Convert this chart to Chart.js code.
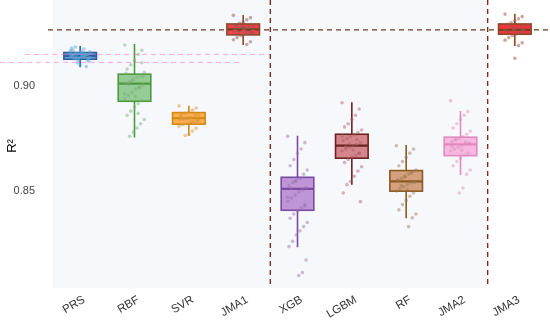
<!DOCTYPE html>
<html><head><meta charset="utf-8">
<script src="https://cdn.jsdelivr.net/npm/chart.js@4/dist/chart.umd.min.js"></script>
<style>html,body{margin:0;padding:0;background:#fff}#wrap{width:550px;height:320px}</style>
</head><body><div id="wrap"><canvas id="c" width="550" height="320"></canvas></div>
<script>
const categories = ['PRS','RBF','SVR','JMA1','XGB','LGBM','RF','JMA2','JMA3'];
const yTicks = [0.85, 0.90];
const q1      = [0.9127,0.8927,0.8818,0.9243,0.8408,0.8656,0.8499,0.8668,0.9246];
const medians = [0.9143,0.9011,0.8846,0.9271,0.8510,0.8716,0.8546,0.8722,0.9267];
const q3      = [0.9159,0.9056,0.8873,0.9295,0.8565,0.8770,0.8597,0.8756,0.9295];
const whiskLo = [0.9089,0.8754,0.8762,0.9195,0.8232,0.8529,0.8370,0.8576,0.9190];
const whiskHi = [0.9190,0.9199,0.8906,0.9338,0.8763,0.8922,0.8719,0.8881,0.9343];
const pinkRefLines = [0.9150, 0.9112];
const ptsPRS = [0.9143,0.9150,0.9138,0.9160,0.9128,0.9170,0.9135,0.9147,0.9155,0.9120,0.9185,0.9140,0.9131,0.9152,0.9165,0.9110,0.9145,0.9158,0.9125,0.9176,0.9100,0.9137,0.9149,0.9162,0.9092,0.9141,0.9133,0.9156,0.9180,0.9118,0.9146,0.9139,0.9153,0.9129,0.9168];
const ptsRBF = [0.9195,0.9170,0.9150,0.9120,0.9100,0.9080,0.9065,0.9050,0.9040,0.9030,0.9020,0.9012,0.9005,0.8995,0.8985,0.8970,0.8955,0.8940,0.8930,0.8915,0.8900,0.8880,0.8860,0.8840,0.8820,0.8800,0.8780,0.8760,0.9060,0.9045,0.8990,0.8950,0.9025,0.9008,0.8962,0.9110,0.8870];
const ptsSVR = [0.8905,0.8895,0.8885,0.8878,0.8870,0.8865,0.8860,0.8855,0.8850,0.8847,0.8844,0.8840,0.8835,0.8830,0.8825,0.8820,0.8815,0.8808,0.8798,0.8785,0.8770,0.8764,0.8852,0.8838,0.8868,0.8828,0.8848,0.8842,0.8857,0.8833];
const ptsJMA1 = [0.9336,0.9325,0.9315,0.9305,0.9298,0.9290,0.9285,0.9280,0.9275,0.9272,0.9268,0.9263,0.9258,0.9252,0.9246,0.9240,0.9230,0.9220,0.9210,0.9197,0.9278,0.9260,0.9288,0.9250,0.9270,0.9265,0.9282];
const ptsXGB = [0.8760,0.8730,0.8700,0.8680,0.8650,0.8620,0.8600,0.8580,0.8560,0.8550,0.8540,0.8525,0.8515,0.8505,0.8495,0.8480,0.8465,0.8450,0.8435,0.8420,0.8405,0.8390,0.8370,0.8350,0.8330,0.8310,0.8290,0.8260,0.8235,0.8171,0.8111,0.8097,0.8545,0.8512,0.8470,0.8428];
const ptsLGBM = [0.8920,0.8890,0.8860,0.8840,0.8820,0.8805,0.8790,0.8778,0.8768,0.8760,0.8750,0.8740,0.8730,0.8722,0.8715,0.8708,0.8700,0.8690,0.8680,0.8670,0.8660,0.8650,0.8635,0.8615,0.8595,0.8570,0.8545,0.8530,0.8490,0.8449,0.8745,0.8695,0.8725,0.8712,0.8762,0.8678];
const ptsRF = [0.8715,0.8700,0.8680,0.8660,0.8640,0.8620,0.8600,0.8590,0.8580,0.8570,0.8560,0.8552,0.8545,0.8538,0.8530,0.8520,0.8510,0.8500,0.8490,0.8475,0.8455,0.8435,0.8410,0.8390,0.8372,0.8330,0.8565,0.8525,0.8548,0.8541,0.8585,0.8505];
const ptsJMA2 = [0.8930,0.8878,0.8860,0.8840,0.8820,0.8800,0.8785,0.8770,0.8758,0.8750,0.8742,0.8735,0.8728,0.8722,0.8715,0.8708,0.8700,0.8690,0.8680,0.8670,0.8655,0.8640,0.8620,0.8600,0.8580,0.8514,0.8490,0.8745,0.8712,0.8724,0.8733,0.8695];
const ptsJMA3 = [0.9342,0.9330,0.9320,0.9310,0.9300,0.9293,0.9287,0.9280,0.9275,0.9270,0.9266,0.9262,0.9257,0.9252,0.9247,0.9240,0.9230,0.9218,0.9205,0.9192,0.9132,0.9283,0.9260,0.9271,0.9268,0.9264,0.9277];
const points = [ptsPRS,ptsRBF,ptsSVR,ptsJMA1,ptsXGB,ptsLGBM,ptsRF,ptsJMA2,ptsJMA3];

const fills   = ['rgba(60,125,205,0.75)','rgba(85,175,80,0.6)','rgba(255,150,20,0.75)','rgba(238,35,45,0.85)','rgba(160,95,195,0.65)','rgba(198,80,88,0.68)','rgba(198,122,72,0.7)','rgba(248,140,205,0.6)','rgba(245,30,40,0.9)'];
const borders = ['#2f5f9f','#4e9a40','#d08a10','#8a4a2a','#7b4aa2','#6a2420','#8a5a20','#e08ac0','#8a4a2a'];
const ptCols  = ['rgba(90,170,210,0.5)','rgba(120,170,120,0.45)','rgba(220,150,60,0.5)','rgba(140,90,80,0.5)','rgba(150,110,170,0.45)','rgba(170,90,100,0.45)','rgba(150,120,80,0.45)','rgba(220,140,180,0.45)','rgba(160,80,70,0.5)'];

function jit(i){ return (((i*7919)%17)/16 - 0.5) * 0.36; }
const datasets = points.map((arr,g)=>({
  data: arr.map((v,i)=>({x:g + jit(i), y:v})),
  pointRadius:1.8, pointBackgroundColor:ptCols[g], pointBorderWidth:0, showLine:false
}));

const decor = {
  id:'decor',
  beforeDraw(chart){
    const {ctx, chartArea:a, scales:{x}} = chart;
    ctx.save();
    ctx.fillStyle = '#f6f8fc';
    ctx.fillRect(a.left, 0, x.getPixelForValue(7.5)-a.left, a.bottom);
    ctx.restore();
  },
  beforeDatasetsDraw(chart){
    const {ctx, scales:{x,y}} = chart;
    const hw = (x.getPixelForValue(1)-x.getPixelForValue(0))*0.3;
    ctx.save();
    categories.forEach((c,g)=>{
      const cx = x.getPixelForValue(g);
      ctx.strokeStyle = borders[g];
      ctx.lineWidth = 1.6;
      ctx.beginPath();
      ctx.moveTo(cx, y.getPixelForValue(whiskHi[g])); ctx.lineTo(cx, y.getPixelForValue(q3[g]));
      ctx.moveTo(cx, y.getPixelForValue(q1[g])); ctx.lineTo(cx, y.getPixelForValue(whiskLo[g]));
      ctx.stroke();
      const top = y.getPixelForValue(q3[g]), bot = y.getPixelForValue(q1[g]);
      ctx.fillStyle = fills[g];
      ctx.fillRect(cx-hw, top, 2*hw, bot-top);
      ctx.strokeRect(cx-hw, top, 2*hw, bot-top);
      ctx.lineWidth = 2.2;
      ctx.beginPath();
      const m = y.getPixelForValue(medians[g]);
      ctx.moveTo(cx-hw, m); ctx.lineTo(cx+hw, m); ctx.stroke();
    });
    ctx.restore();
  },
  afterDatasetsDraw(chart){
    const {ctx, chartArea:a, scales:{x,y}} = chart;
    ctx.save();
    ctx.setLineDash([5,4]);
    ctx.lineWidth = 1;
    ctx.strokeStyle = 'rgba(255,100,200,0.55)';
    pinkRefLines.forEach((v,k)=>{
      const py = y.getPixelForValue(v);
      const x0 = k===0 ? a.left-28 : 0;
      const x1 = k===0 ? x.getPixelForValue(3.5) : x.getPixelForValue(3.0);
      ctx.beginPath(); ctx.moveTo(x0, py); ctx.lineTo(x1, py); ctx.stroke();
    });
    ctx.lineWidth = 1.4;
    ctx.strokeStyle = '#7a2e1a';
    [3.5,7.5].forEach(v=>{
      const px = x.getPixelForValue(v);
      ctx.beginPath(); ctx.moveTo(px, 0); ctx.lineTo(px, a.bottom); ctx.stroke();
    });
    ctx.strokeStyle = '#6e3a1c';
    const hy = y.getPixelForValue(medians[8]);
    ctx.beginPath(); ctx.moveTo(a.left-5, hy); ctx.lineTo(chart.width, hy); ctx.stroke();
    ctx.restore();
  }
};

new Chart(document.getElementById('c'), {
  type:'scatter',
  data:{datasets},
  plugins:[decor],
  options:{
    responsive:false, animation:false, devicePixelRatio:1,
    layout:{padding:{top:4,right:8,left:0,bottom:0}},
    plugins:{legend:{display:false}, tooltip:{enabled:false}},
    scales:{
      x:{type:'linear', min:-0.5, max:8.5, grid:{display:false}, border:{display:false},
         afterBuildTicks(s){ s.ticks = categories.map((c,i)=>({value:i})); },
         afterFit(s){ s.height = 32; s.paddingLeft = 0; s.paddingRight = 0; },
         ticks:{autoSkip:false, maxRotation:30, minRotation:30, padding:-3, labelOffset:4, color:'#333',
                font:{family:'Liberation Sans, Arial, sans-serif', size:11.5},
                callback:(v)=>categories[v]}},
      y:{min:0.8038, max:0.9390, grid:{display:false}, border:{display:false},
         afterBuildTicks(s){ s.ticks = yTicks.map(v=>({value:v})); },
         afterFit(s){ s.width = 53; s.paddingTop = 0; s.paddingBottom = 0; },
         ticks:{padding:10, color:'#444', font:{family:'Liberation Sans, Arial, sans-serif', size:11},
                callback:(v)=>v.toFixed(2)},
         title:{display:true, text:'R²', color:'#000', padding:{top:5,bottom:0},
                font:{family:'Liberation Sans, Arial, sans-serif', size:13}}}
    }
  }
});
</script></body></html>
